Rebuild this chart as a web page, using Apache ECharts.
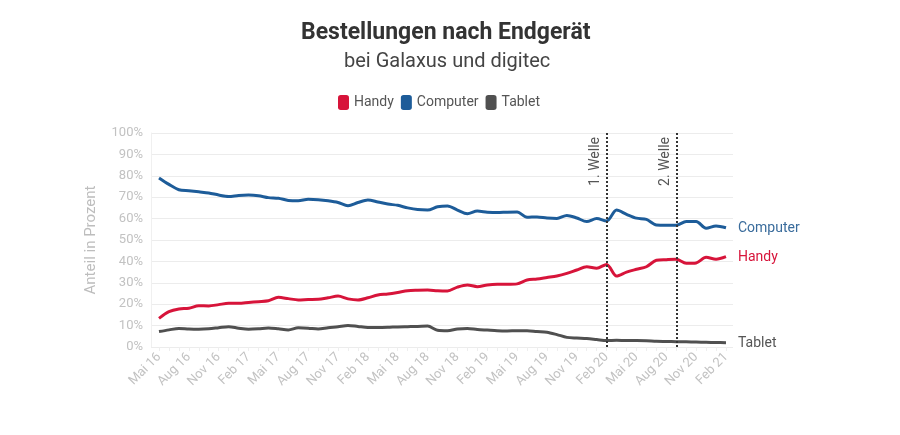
<!DOCTYPE html>
<html><head><meta charset="utf-8">
<script src="https://cdn.jsdelivr.net/npm/echarts@6/dist/echarts.min.js"></script>
<style>html,body{margin:0;padding:0;background:#fff}#c{width:900px;height:435px}</style>
</head><body><div id="c"></div>
<script>
const months = ['Jan','Feb','Mär','Apr','Mai','Jun','Jul','Aug','Sep','Okt','Nov','Dez'];
const categories = [];
for (let y = 2016, m = 4; !(y === 2021 && m === 2); ) {
  categories.push(months[m] + ' ' + String(y).slice(2));
  m++; if (m === 12) { m = 0; y++; }
}
const computer = [79,76,73.5,73,72.5,72,71,70.3,70.8,71,70.7,69.8,69.5,68.5,68.3,69,68.8,68.3,67.5,66,67.5,68.7,67.8,66.8,66.2,65,64.2,64,65.5,65.9,64,62.3,63.5,63,62.8,63,63.1,60.6,60.8,60.3,60.1,61.5,60.3,58.6,60,58.9,64,62,60.2,59.6,57,56.9,56.9,58.6,58.6,55.5,56.6,55.7];
const handy = [13.4,16.5,17.8,18.1,19.3,19.2,19.8,20.4,20.4,20.8,21.2,21.6,23.2,22.6,22,22.2,22.3,23,23.8,22.5,22,23,24.3,24.8,25.5,26.3,26.5,26.6,26.3,26.2,28,29,28.2,29,29.3,29.3,29.5,31.3,31.8,32.5,33.2,34.4,36,37.5,36.8,38.6,33.2,35,36.3,37.5,40.5,40.8,41,39.1,39.3,41.9,41,42.2];
const tablet = [7.2,8,8.7,8.4,8.3,8.5,9,9.5,8.8,8.3,8.5,8.9,8.5,8,9,8.8,8.4,9,9.5,10.1,9.6,9.1,9.1,9.2,9.4,9.5,9.6,9.8,7.8,7.6,8.4,8.7,8.2,7.9,7.6,7.5,7.6,7.6,7.2,6.9,5.8,4.5,4.2,4,3.5,3,3.1,3,3,2.9,2.7,2.6,2.5,2.4,2.3,2.2,2.1,2];
const waves = [{cat: 'Feb 20', label: '1. Welle'}, {cat: 'Sep 20', label: '2. Welle'}];

const FONT = 'Roboto';
const cRed = '#d7143a', cBlue = '#1d5c99', cGray = '#505050';
const chart = echarts.init(document.getElementById('c'), null, {renderer: 'canvas'});
function ser(name, data, color, labelColor, extra) {
  return Object.assign({
    name, type: 'line', data, smooth: 0.3, symbol: 'none',
    xAxisIndex: 0, yAxisIndex: 0,
    lineStyle: {width: 3, color}, itemStyle: {color},
    endLabel: {show: true, formatter: '{a}', color: labelColor, fontFamily: FONT, fontSize: 14, distance: 12, offset: [0, 1]}
  }, extra || {});
}
chart.setOption({
  animation: false,
  title: [
    {text: 'Bestellungen nach Endgerät', left: 296, top: 17,
     textStyle: {fontFamily: FONT, fontWeight: 'bold', fontSize: 23, color: '#333'}},
    {text: 'bei Galaxus und digitec', left: 339, top: 47,
     textStyle: {fontFamily: FONT, fontWeight: 'normal', fontSize: 20, color: '#444'}}
  ],
  legend: {
    top: 90, left: 333, icon: 'roundRect', itemWidth: 11, itemHeight: 15, itemGap: 7,
    textStyle: {fontFamily: FONT, fontSize: 14, color: '#555'},
    data: ['Handy', 'Computer', 'Tablet']
  },
  grid: [
    {left: 159, right: 174, top: 133, bottom: 88},
    {left: 151, right: 167, top: 133, bottom: 88}
  ],
  xAxis: [
    {type: 'category', gridIndex: 0, data: categories, boundaryGap: false,
     axisLine: {show: false},
     axisTick: {show: true, interval: 0, length: 4, lineStyle: {color: '#eee'}},
     axisLabel: {interval: 2, rotate: 45, fontFamily: FONT, fontSize: 13, color: '#c2c2c2', margin: 8}},
    {type: 'value', gridIndex: 1, min: 0, max: 1, show: false}
  ],
  yAxis: [
    {type: 'value', gridIndex: 0, min: 0, max: 100, interval: 10, show: false},
    {type: 'value', gridIndex: 1, min: 0, max: 100, interval: 10,
     name: 'Anteil in Prozent', nameLocation: 'middle', nameGap: 52,
     nameTextStyle: {fontFamily: FONT, fontSize: 15, color: '#bdbdbd'},
     axisLine: {show: true, lineStyle: {color: '#f0f0f0'}}, axisTick: {show: false},
     axisLabel: {formatter: '{value}%', fontFamily: FONT, fontSize: 13, color: '#c2c2c2', margin: 8},
     splitLine: {lineStyle: {color: '#ececec'}}}
  ],
  series: [
    ser('Handy', handy, cRed, '#d7143a', {
      markLine: {
        symbol: 'none', silent: true,
        lineStyle: {type: [2, 2], color: '#333', width: 2},
        label: {position: 'insideEndTop', formatter: '{b}', fontFamily: FONT, fontSize: 14, color: '#555', distance: 4},
        data: waves.map(w => ({xAxis: w.cat, name: w.label}))
      }
    }),
    ser('Computer', computer, cBlue, '#3a6c9c'),
    ser('Tablet', tablet, cGray, '#555')
  ]
});
</script></body></html>
